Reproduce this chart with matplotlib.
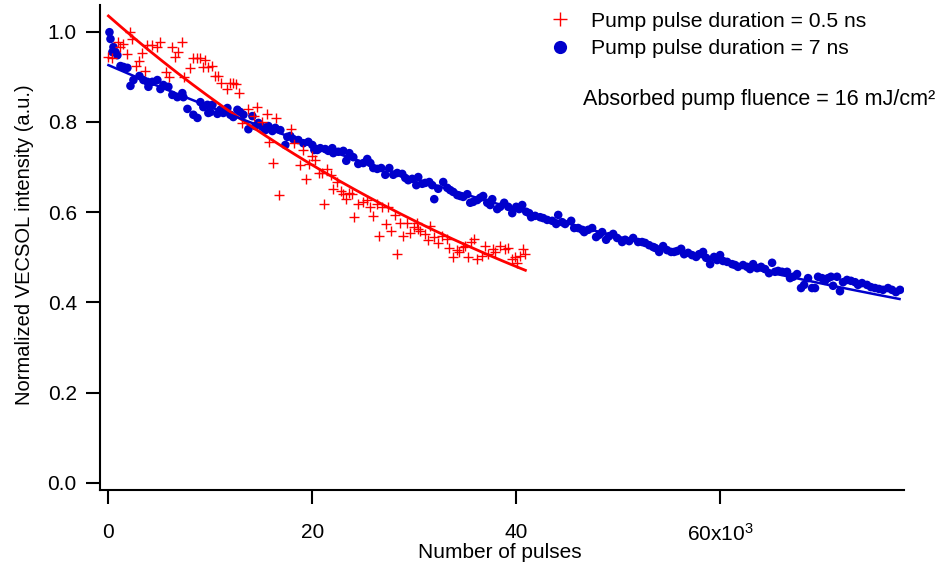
import matplotlib
matplotlib.use("Agg")
import matplotlib.pyplot as plt
from matplotlib.lines import Line2D
import numpy as np

plt.rcParams['font.family'] = ['Liberation Sans', 'DejaVu Sans']
plt.rcParams['mathtext.fontset'] = 'custom'
plt.rcParams['mathtext.rm'] = 'Liberation Sans'
plt.rcParams['mathtext.default'] = 'regular'

# ---- data (x in units of 10^3 pulses) ----
red_x = [0.00, 0.39, 0.98, 1.18, 1.47, 1.86, 2.16, 2.35, 2.75, 3.04, 3.33, 3.63, 3.82, 4.31, 4.80,
         5.10, 5.69, 5.98, 6.27, 6.57, 6.86, 7.25, 7.45, 8.04, 8.33, 8.73, 9.02, 9.31, 9.51, 9.80,
         10.20, 10.49, 10.78, 11.08, 11.67, 11.96, 12.25, 12.55, 12.84, 13.14, 13.73, 14.31, 14.61,
         15.10, 15.59, 15.78, 16.18, 16.47, 16.76, 17.94, 18.24, 18.82, 19.12, 19.41, 19.71, 20.00,
         20.29, 20.69, 20.98, 21.18, 21.47, 21.86, 22.06, 22.45, 22.84, 23.04, 23.33, 23.63, 23.92,
         24.12, 24.51, 25.00, 25.39, 25.69, 25.98, 26.37, 26.57, 26.86, 27.25, 27.45, 27.75, 28.14,
         28.33, 28.63, 28.92, 29.31, 29.61, 30.00, 30.29, 30.39, 30.59, 31.08, 31.37, 31.57, 31.96,
         32.35, 32.75, 33.24, 33.43, 33.82, 34.22, 34.41, 34.80, 35.00, 35.29, 35.59, 35.88, 36.18,
         36.67, 36.96, 37.25, 37.75, 37.94, 38.43, 38.92, 39.22, 39.61, 39.90, 40.10, 40.39, 40.69,
         40.88]
red_y = [0.944, 0.942, 0.977, 0.966, 0.973, 0.951, 0.999, 0.984, 0.924, 0.935, 0.953, 0.913, 0.971,
         0.971, 0.966, 0.977, 0.911, 0.900, 0.966, 0.944, 0.955, 0.977, 0.900, 0.920, 0.942, 0.942,
         0.942, 0.922, 0.937, 0.922, 0.924, 0.902, 0.902, 0.886, 0.873, 0.886, 0.886, 0.884, 0.864,
         0.798, 0.829, 0.813, 0.833, 0.800, 0.818, 0.756, 0.709, 0.809, 0.638, 0.784, 0.753, 0.705,
         0.738, 0.674, 0.707, 0.725, 0.716, 0.687, 0.687, 0.618, 0.696, 0.683, 0.652, 0.667, 0.647,
         0.640, 0.629, 0.643, 0.640, 0.589, 0.618, 0.623, 0.627, 0.612, 0.592, 0.618, 0.547, 0.612,
         0.574, 0.612, 0.558, 0.594, 0.507, 0.576, 0.547, 0.576, 0.554, 0.567, 0.576, 0.563, 0.558,
         0.552, 0.539, 0.570, 0.545, 0.532, 0.547, 0.541, 0.521, 0.501, 0.516, 0.512, 0.523, 0.525,
         0.501, 0.534, 0.541, 0.496, 0.503, 0.525, 0.507, 0.519, 0.512, 0.525, 0.519, 0.521, 0.496,
         0.501, 0.488, 0.503, 0.519, 0.507]

blue_x = [0.10, 0.20, 0.39, 0.49, 0.69, 0.88, 1.18, 1.47, 1.86, 2.16, 2.45, 3.04, 3.43, 3.82, 3.92,
          4.31, 4.80, 5.10, 5.39, 5.88, 6.27, 6.76, 7.25, 7.35, 7.75, 8.33, 8.73, 9.02, 9.31, 9.71,
          9.80, 10.00, 10.20, 10.69, 10.98, 11.27, 11.67, 11.96, 12.25, 12.65, 12.94, 13.24, 13.73,
          14.12, 14.41, 14.71, 15.10, 15.39, 15.69, 16.08, 16.37, 16.86, 17.35, 17.55, 17.84, 18.14,
          18.63, 19.12, 19.61, 20.00, 20.20, 20.49, 20.78, 21.27, 21.57, 21.96, 22.06, 22.55, 23.04,
          23.33, 23.63, 24.02, 24.51, 25.00, 25.39, 25.69, 25.98, 26.37, 26.76, 27.16, 27.55, 27.94,
          28.33, 28.82, 29.12, 29.41, 29.80, 30.20, 30.39, 30.78, 31.08, 31.47, 31.76, 31.96, 32.35,
          32.84, 33.24, 33.53, 33.82, 34.22, 34.51, 34.80, 35.20, 35.49, 35.78, 36.18, 36.47, 36.76,
          37.16, 37.45, 37.65, 38.14, 38.43, 38.82, 39.22, 39.61, 40.00, 40.29, 40.59, 40.98, 41.27,
          41.47, 41.86, 42.35, 42.65, 43.04, 43.53, 43.92, 44.12, 44.51, 44.80, 45.39, 45.69, 46.08,
          46.47, 46.67, 47.06, 47.45, 47.84, 48.14, 48.43, 48.82, 49.12, 49.51, 49.90, 50.39, 50.69,
          51.08, 51.47, 51.96, 52.35, 52.65, 53.04, 53.43, 53.63, 54.02, 54.41, 54.80, 55.20, 55.49,
          55.78, 56.18, 56.47, 56.86, 57.25, 57.65, 57.94, 58.33, 58.63, 59.02, 59.41, 59.71, 60.00,
          60.29, 60.69, 61.18, 61.47, 61.76, 62.25, 62.65, 62.94, 63.24, 63.63, 64.02, 64.41, 64.80,
          65.10, 65.39, 65.69, 66.08, 66.57, 66.86, 67.16, 67.55, 67.94, 68.24, 68.63, 69.02, 69.31,
          69.61, 70.00, 70.29, 70.59, 70.88, 71.08, 71.47, 71.76, 72.06, 72.45, 72.84, 73.24, 73.53,
          73.92, 74.41, 74.80, 75.20, 75.59, 75.98, 76.47, 76.86, 77.25, 77.65]
blue_y = [0.999, 0.984, 0.955, 0.966, 0.955, 0.948, 0.924, 0.922, 0.920, 0.880, 0.893, 0.902, 0.893,
          0.889, 0.878, 0.889, 0.893, 0.873, 0.882, 0.878, 0.860, 0.855, 0.864, 0.855, 0.829, 0.816,
          0.809, 0.844, 0.833, 0.838, 0.820, 0.822, 0.838, 0.818, 0.827, 0.820, 0.831, 0.816, 0.811,
          0.827, 0.822, 0.816, 0.784, 0.813, 0.791, 0.798, 0.789, 0.782, 0.791, 0.780, 0.787, 0.782,
          0.749, 0.767, 0.769, 0.762, 0.760, 0.753, 0.756, 0.749, 0.738, 0.738, 0.742, 0.740, 0.736,
          0.742, 0.731, 0.734, 0.736, 0.714, 0.731, 0.722, 0.707, 0.709, 0.718, 0.709, 0.698, 0.696,
          0.698, 0.683, 0.698, 0.683, 0.687, 0.685, 0.676, 0.671, 0.674, 0.660, 0.678, 0.663, 0.665,
          0.667, 0.660, 0.629, 0.652, 0.667, 0.654, 0.649, 0.645, 0.638, 0.636, 0.634, 0.640, 0.621,
          0.623, 0.627, 0.632, 0.636, 0.621, 0.616, 0.629, 0.607, 0.612, 0.621, 0.612, 0.598, 0.612,
          0.607, 0.616, 0.601, 0.598, 0.589, 0.592, 0.589, 0.587, 0.583, 0.581, 0.574, 0.594, 0.578,
          0.574, 0.581, 0.565, 0.565, 0.561, 0.556, 0.561, 0.565, 0.545, 0.550, 0.556, 0.539, 0.547,
          0.552, 0.543, 0.534, 0.539, 0.536, 0.543, 0.534, 0.534, 0.532, 0.527, 0.523, 0.521, 0.512,
          0.525, 0.516, 0.512, 0.512, 0.514, 0.519, 0.507, 0.510, 0.505, 0.501, 0.507, 0.512, 0.499,
          0.485, 0.501, 0.494, 0.505, 0.492, 0.490, 0.485, 0.483, 0.479, 0.483, 0.479, 0.474, 0.485,
          0.476, 0.479, 0.474, 0.465, 0.488, 0.468, 0.470, 0.468, 0.468, 0.454, 0.457, 0.463, 0.432,
          0.439, 0.454, 0.432, 0.432, 0.457, 0.454, 0.448, 0.454, 0.457, 0.437, 0.457, 0.425, 0.445,
          0.450, 0.448, 0.445, 0.439, 0.443, 0.439, 0.434, 0.432, 0.430, 0.428, 0.432, 0.428, 0.423,
          0.428]

# exponential fit parameters: amplitude, decay constant (10^3 pulses), x-range
red_fit_amp, red_fit_tau, red_fit_range = 1.035, 52.0, (0.0, 40.9)
blue_fit_amp, blue_fit_tau, blue_fit_range = 0.926, 94.6, (0.0, 77.6)

red_label = "Pump pulse duration = 0.5 ns"
blue_label = "Pump pulse duration = 7 ns"
note_text = "Absorbed pump fluence = 16 mJ/cm\u00b2"
x_ticks = [0, 20, 40, 60]
x_tick_labels = ["0", "20", "40", "60x10$^{3}$"]
y_ticks = [0.0, 0.2, 0.4, 0.6, 0.8, 1.0]

RED = "#ff0000"
BLUE = "#0000cc"

fig = plt.figure(figsize=(9.4, 5.66), dpi=100)
ax = fig.add_axes([0.1069, 0.1343, 0.8548, 0.8569])

ax.scatter(blue_x, blue_y, s=38, color=BLUE, edgecolors='none', zorder=3)
ax.plot(red_x, red_y, linestyle='none', marker='+', markersize=7, markeredgewidth=1.0,
        color=RED, zorder=4)

fx = np.linspace(*red_fit_range, 200)
ax.plot(fx, red_fit_amp * np.exp(-fx / red_fit_tau), color=RED, lw=2.0, zorder=5)
fx = np.linspace(*blue_fit_range, 200)
ax.plot(fx, blue_fit_amp * np.exp(-fx / blue_fit_tau), color=BLUE, lw=1.8, zorder=5)

ax.set_xlim(-0.78, 78.04)
ax.set_ylim(-0.0155, 1.0593)
ax.spines['top'].set_visible(False)
ax.spines['right'].set_visible(False)
ax.spines['left'].set_linewidth(1.5)
ax.spines['bottom'].set_linewidth(1.5)

ax.set_xticks(x_ticks)
ax.set_xticklabels(x_tick_labels)
ax.set_yticks(y_ticks)
ax.set_yticklabels([f"{v:.1f}" for v in y_ticks])
ax.tick_params(axis='both', direction='out', length=10, width=1.5, labelsize=15, colors='black')
ax.tick_params(axis='x', pad=14)
ax.tick_params(axis='y', pad=7)

ax.set_xlabel("Number of pulses", fontsize=15)
ax.set_ylabel("Normalized VECSOL intensity (a.u.)", fontsize=14.5)
ax.xaxis.set_label_coords(0.497, -0.11)
ax.yaxis.set_label_coords(-0.083, 0.505)

handles = [Line2D([], [], linestyle='none', marker='+', markersize=10, markeredgewidth=1.0, color=RED),
           Line2D([], [], linestyle='none', marker='o', markersize=9.5, color=BLUE, markeredgewidth=0)]
fig.legend(handles, [red_label, blue_label], loc='upper left', bbox_to_anchor=(0.5847, 0.979),
           frameon=False, fontsize=15.2, handlelength=1.0, handletextpad=0.95,
           borderpad=0, borderaxespad=0, labelspacing=0.39)

fig.text(583 / 940, 1 - 100 / 566, note_text, fontsize=15.5, ha='left', va='center')

fig.savefig("out.png", dpi=100)
